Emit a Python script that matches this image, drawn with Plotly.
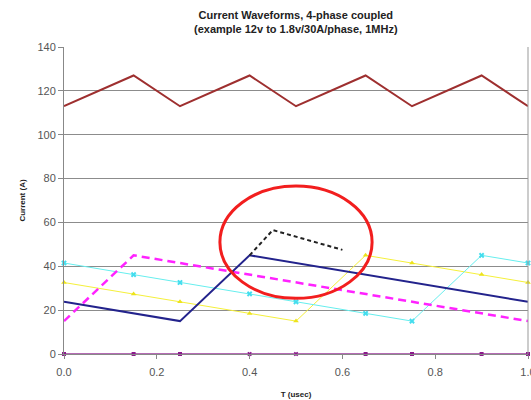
import plotly.graph_objects as go

# ---- data ----
t_all = [0.0, 0.15, 0.25, 0.4, 0.5, 0.65, 0.75, 0.9, 1.0]
total = [113, 127, 113, 127, 113, 127, 113, 127, 113]

phase1_t = [0.0, 0.25, 0.4, 1.0]
phase1 = [23.8, 15, 45, 23.8]

phase2_t = [0.0, 0.15, 1.0]
phase2 = [15, 45, 15]

phase3 = [32.6, 27.4, 23.8, 18.5, 15, 45, 41.5, 36.2, 32.6]
phase4 = [41.5, 36.2, 32.6, 27.4, 23.8, 18.5, 15, 45, 41.5]
zero_line = [0, 0, 0, 0, 0, 0, 0, 0, 0]

spike_t = [0.4, 0.45, 0.6]
spike = [45, 56.5, 47.5]

y_ticks = [0, 20, 40, 60, 80, 100, 120, 140]
x_ticks = [0.0, 0.2, 0.4, 0.6, 0.8, 1.0]

fig = go.Figure()

fig.add_trace(go.Scatter(x=t_all, y=zero_line, mode="lines+markers",
                         line=dict(color="#9B3A9B", width=1.5),
                         marker=dict(symbol=["square", "square", "square", "x", "x",
                                             "square", "square", "square", "square"],
                                     size=4, color="#8B1A8B"),
                         cliponaxis=False))
fig.add_trace(go.Scatter(x=t_all, y=total, mode="lines",
                         line=dict(color="#9E2F2F", width=2)))
fig.add_trace(go.Scatter(x=t_all, y=phase3, mode="lines+markers",
                         line=dict(color="#F5F03A", width=1),
                         marker=dict(symbol="triangle-up", size=5, color="#EDE31C"),
                         cliponaxis=False))
fig.add_trace(go.Scatter(x=t_all, y=phase4, mode="lines+markers",
                         line=dict(color="#66EEEE", width=1),
                         marker=dict(symbol="x", size=5, color="#44DDEE",
                                     line=dict(width=0)),
                         cliponaxis=False))
fig.add_trace(go.Scatter(x=phase2_t, y=phase2, mode="lines",
                         line=dict(color="#FF22FF", width=2.5, dash="8px,5px")))
fig.add_trace(go.Scatter(x=phase1_t, y=phase1, mode="lines",
                         line=dict(color="#23238C", width=2)))
fig.add_trace(go.Scatter(x=spike_t, y=spike, mode="lines",
                         line=dict(color="#222222", width=2, dash="4px,3px")))

fig.add_shape(type="circle", xref="x", yref="y",
              x0=0.336, x1=0.664, y0=25.4, y1=76.6,
              line=dict(color="#F21E1E", width=3))

fig.update_layout(
    width=531, height=400,
    margin=dict(l=64, r=3, t=47, b=46, autoexpand=False),
    paper_bgcolor="white", plot_bgcolor="white",
    showlegend=False,
    font=dict(family="Liberation Sans, Arial, sans-serif", color="#555555", size=11),
    xaxis=dict(range=[0, 1], tickvals=x_ticks, tickformat=".1f",
               automargin=False, ticklabeloverflow="allow",
               showgrid=False, zeroline=False, showline=True,
               linecolor="#888888", linewidth=1, ticks="outside",
               ticklen=4, tickcolor="#888888", ticklabelstandoff=4,
               tickfont=dict(size=11, color="#555555"),
               title=dict(text="<b>T (usec)</b>", font=dict(size=8, color="#222222"),
                          standoff=14)),
    yaxis=dict(range=[0, 140], tickvals=y_ticks, automargin=False,
               showgrid=True, gridcolor="#8C8C8C", gridwidth=1,
               zeroline=False, showline=True, linecolor="#888888", linewidth=1,
               ticks="outside", ticklen=5, tickcolor="#888888",
               tickfont=dict(size=11, color="#555555"),
               title=dict(text="<b>Current (A)</b>", font=dict(size=8, color="#222222"),
                          standoff=10)),
)

fig.add_annotation(xref="paper", yref="paper", x=0.5, y=1, yshift=25,
                   text="<b>Current Waveforms, 4-phase coupled<br>(example 12v to 1.8v/30A/phase, 1MHz)</b>",
                   showarrow=False, font=dict(size=11, color="#222222"),
                   xanchor="center", yanchor="middle")

# right border line
fig.add_shape(type="line", xref="paper", yref="paper", x0=1, x1=1, y0=0, y1=1,
              line=dict(color="#999999", width=1))

fig.write_html("out.html", config={"displayModeBar": False},
               post_script="document.body.style.margin='0';document.body.style.overflow='hidden';")
